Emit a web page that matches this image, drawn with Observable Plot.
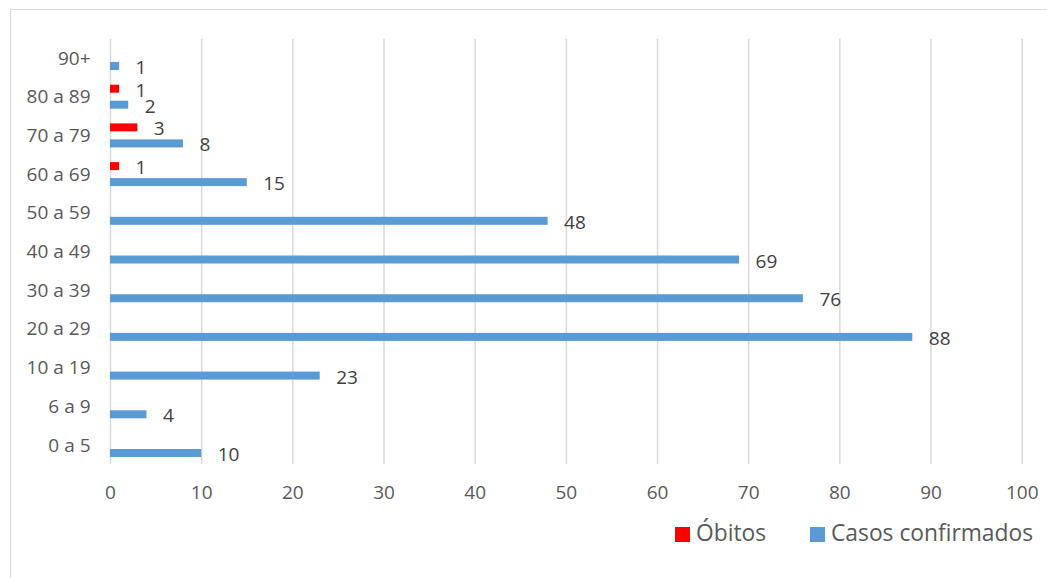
<!DOCTYPE html>
<html>
<head>
<meta charset="utf-8">
<script src="https://cdn.jsdelivr.net/npm/d3@7"></script>
<script src="https://cdn.jsdelivr.net/npm/@observablehq/plot@0.6"></script>
<style>
  html, body { margin: 0; padding: 0; background: #fff; width: 1047px; height: 578px; overflow: hidden; }
  #frame { position: absolute; left: 10px; top: 9px; width: 1045px; height: 585px; border: 1.5px solid #d9d9d9; box-sizing: border-box; }
  #chart { position: absolute; left: 0; top: 0; }
  .leg { position: absolute; top: 518px; font-family: "Open Sans", sans-serif; font-size: 22.8px; color: #595959; line-height: 30px; white-space: nowrap; }
  .sw { position: absolute; width: 15px; height: 15px; top: 527px; }
</style>
</head>
<body>
<div id="frame"></div>
<div id="chart"></div>
<div class="sw" style="left:675px;background:#FF0000"></div>
<div class="leg" style="left:696px">Óbitos</div>
<div class="sw" style="left:810px;background:#5B9BD5"></div>
<div class="leg" style="left:831px">Casos confirmados</div>
<script>
const categories = ["0 a 5","6 a 9","10 a 19","20 a 29","30 a 39","40 a 49","50 a 59","60 a 69","70 a 79","80 a 89","90+"];
const casos = [10, 4, 23, 88, 76, 69, 48, 15, 8, 2, 1];
const obitos = [null, null, null, null, null, null, null, 1, 3, 1, null];
const xTicks = [0, 10, 20, 30, 40, 50, 60, 70, 80, 90, 100];

const casosData = categories.map((c, i) => ({cat: c, v: casos[i]}));
const obitosData = categories.map((c, i) => ({cat: c, v: obitos[i]})).filter(d => d.v != null);

const H = 510;
const plot = Plot.plot({
  width: 1047,
  height: H,
  marginLeft: 110,
  marginRight: 25.3,
  marginTop: 38.65,
  marginBottom: H - 464.35,
  style: {fontFamily: "Open Sans, sans-serif", fontSize: "19px", color: "#595959", background: "transparent", overflow: "visible"},
  x: {domain: [0, 100]},
  y: {domain: categories.slice().reverse(), padding: 0, round: false},
  marks: [
    Plot.gridX(xTicks, {stroke: "#d9d9d9", strokeOpacity: 1, strokeWidth: 1.5}),
    Plot.axisX(xTicks, {tickSize: 0, tickPadding: 21, fontSize: 19, fill: "#595959", label: null}),
    Plot.axisY({tickSize: 0, tickPadding: 20, fontSize: 19, fill: "#595959", label: null}),
    Plot.barX(casosData, {x: "v", y: "cat", fill: "#5B9BD5", insetTop: 23.35, insetBottom: 7.35}),
    Plot.barX(obitosData, {x: "v", y: "cat", fill: "#FF0000", insetTop: 7.35, insetBottom: 23.35}),
    Plot.text(casosData, {x: "v", y: "cat", text: d => String(d.v), dx: 16, dy: 9.5, textAnchor: "start", fill: "#404040", fontSize: 19}),
    Plot.text(obitosData, {x: "v", y: "cat", text: d => String(d.v), dx: 16, dy: -6.5, textAnchor: "start", fill: "#404040", fontSize: 19})
  ]
});
document.getElementById("chart").appendChild(plot);
</script>
</body>
</html>
